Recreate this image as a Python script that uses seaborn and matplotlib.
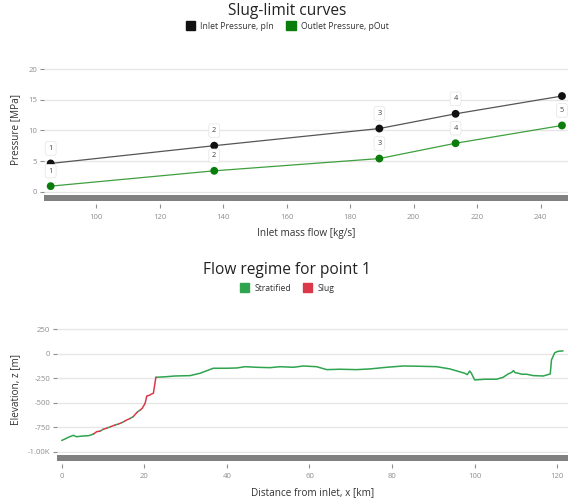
import numpy as np
import pandas as pd
import matplotlib
matplotlib.use("Agg")
import matplotlib.pyplot as plt
import seaborn as sns
from matplotlib.patches import Patch
from matplotlib.ticker import FuncFormatter

# ---------------- data ----------------
point_ids = [1, 2, 3, 4, 5]
mass_flow = [85.7, 137.2, 189.2, 213.2, 246.7]
p_in = [4.6, 7.5, 10.3, 12.7, 15.6]
p_out = [0.9, 3.4, 5.4, 7.9, 10.8]
inlet_point_labels = ["1", "2", "3", "4", ""]
outlet_point_labels = ["1", "2", "3", "4", "5"]
series_names = ["Inlet Pressure, pIn", "Outlet Pressure, pOut"]

x_ticks_top = [100, 120, 140, 160, 180, 200, 220, 240]
y_ticks_top = [0, 5, 10, 15, 20]

dist_km = [0.0, 0.8, 1.6, 2.8, 3.6, 5.0, 6.4, 7.0, 7.7, 8.5, 9.3, 10.0, 11.0,
           11.8, 12.9, 13.7, 14.5, 15.2, 15.7, 16.5, 17.3, 18.0, 18.4, 19.0,
           19.5, 20.2, 20.6, 21.2, 21.8, 22.2, 22.8, 25.0, 27.4, 31.1, 33.5,
           36.7, 40.0, 42.4, 44.4, 47.2, 50.4, 52.9, 56.1, 58.5, 61.7, 64.2,
           67.4, 71.4, 74.6, 78.7, 82.7, 86.0, 90.8, 94.0, 97.6, 98.2, 98.8,
           99.2, 100.0, 102.5, 105.3, 106.9, 108.1, 109.0, 109.4, 109.8,
           110.6, 111.4, 112.6, 114.2, 116.6, 118.3, 118.6, 119.4, 120.2, 121.4]
elev_m = [-885, -870, -853, -833, -847, -840, -837, -830, -819, -795, -790,
          -772, -758, -745, -728, -718, -704, -690, -677, -662, -643, -610,
          -592, -575, -557, -506, -432, -425, -411, -404, -241, -236, -228,
          -224, -200, -149, -149, -146, -133, -139, -143, -133, -139, -126,
          -133, -163, -159, -163, -156, -139, -126, -128, -133, -156, -200,
          -214, -177, -200, -268, -261, -261, -241, -207, -190, -173, -194,
          -200, -210, -210, -224, -228, -207, -64, 10, 24, 28]
regime = (["Stratified"] * 8 +
          ["Slug", "Slug", "Stratified", "Slug", "Stratified", "Slug",
           "Stratified", "Slug", "Stratified", "Slug", "Slug", "Stratified",
           "Slug", "Slug", "Stratified", "Slug", "Slug", "Slug", "Slug",
           "Slug", "Slug", "Slug"] +
          ["Stratified"] * 46)
regime_names = ["Stratified", "Slug"]
y_ticks_bot = [250, 0, -250, -500, -750, -1000]
x_ticks_bot = [0, 20, 40, 60, 80, 100, 120]

# ---------------- style ----------------
sns.set_theme(style="white")
plt.rcParams["font.family"] = ["Open Sans", "DejaVu Sans"]

GRID = "#e6e6e6"
TICK = "#8f8f8f"
LABEL = "#333333"
BAR = "#808080"
IN_LINE, IN_MARK = "#555555", "#111111"
OUT_LINE, OUT_MARK = "#3f9f3f", "#0a7d0a"
STRAT, SLUG = "#2ea44f", "#d9394a"

W, H = 574, 503
fig = plt.figure(figsize=(W / 100, H / 100), dpi=100)


def fy(py):
    return 1 - py / H


def style_axes(ax, yt, xt):
    for s in ax.spines.values():
        s.set_visible(False)
    ax.spines["bottom"].set_position(("outward", 7.5))
    ax.set_yticks(yt)
    ax.set_xticks(xt)
    ax.yaxis.grid(True, color=GRID, linewidth=1.0)
    ax.xaxis.grid(False)
    ax.set_axisbelow(True)
    ax.tick_params(axis="both", colors=TICK, labelsize=5.6, length=3,
                   width=0.8, pad=2)
    ax.tick_params(axis="x", pad=4)
    ax.tick_params(left=True, bottom=True)


# ---------------- top chart ----------------
ax1 = fig.add_axes([44 / W, fy(193.5), (568 - 44) / W, (193.5 - 66) / H])
df_p = pd.DataFrame({
    "flow": mass_flow * 2,
    "p": p_in + p_out,
    "series": [series_names[0]] * 5 + [series_names[1]] * 5,
})
sns.lineplot(data=df_p, x="flow", y="p", hue="series",
             palette={series_names[0]: IN_LINE, series_names[1]: OUT_LINE},
             linewidth=0.9, legend=False, ax=ax1, sort=False)
sns.scatterplot(data=df_p, x="flow", y="p", hue="series",
                palette={series_names[0]: IN_MARK, series_names[1]: OUT_MARK},
                s=32, edgecolor="none", legend=False, ax=ax1, zorder=5)
bbox_kw = dict(boxstyle="round,pad=0.45,rounding_size=0.3", fc="white",
               ec="#e4e4e4", lw=0.5)
for xv, yv, lab in zip(mass_flow, p_in, inlet_point_labels):
    if lab:
        ax1.annotate(lab, (xv, yv), xytext=(0, 10.8), textcoords="offset points",
                     ha="center", va="center", fontsize=5.3, color="#444444",
                     bbox=bbox_kw, zorder=6)
for xv, yv, lab in zip(mass_flow, p_out, outlet_point_labels):
    if lab:
        ax1.annotate(lab, (xv, yv), xytext=(0, 10.8), textcoords="offset points",
                     ha="center", va="center", fontsize=5.3, color="#444444",
                     bbox=bbox_kw, zorder=6)
ax1.set_xlim(83.6, 248.6)
ax1.set_ylim(-0.3, 20.5)
style_axes(ax1, y_ticks_top, x_ticks_top)
ax1.set_xlabel("Inlet mass flow [kg/s]", fontsize=7.2, color=LABEL, labelpad=5)
ax1.set_ylabel("Pressure [MPa]", fontsize=7.2, color=LABEL, labelpad=5)
bar1 = fig.add_axes([44 / W, fy(201), (568 - 44) / W, 6 / H])
bar1.set_facecolor(BAR)
bar1.set_xticks([]); bar1.set_yticks([])
for s in bar1.spines.values():
    s.set_visible(False)

fig.text(0.5, fy(11), "Slug-limit curves", ha="center", va="center",
         fontsize=11.2, color="#222222")
fig.legend(handles=[Patch(color=IN_MARK, label=series_names[0]),
                    Patch(color=OUT_MARK, label=series_names[1])],
           loc="center", bbox_to_anchor=(0.5, fy(26)), ncol=2, frameon=False,
           fontsize=6.2, handlelength=1.1, handleheight=1.1, handletextpad=0.6,
           columnspacing=1.4, labelcolor="#333333")

# ---------------- bottom chart ----------------
ax2 = fig.add_axes([57.3 / W, fy(453.2), (568 - 57.3) / W, (453.2 - 325) / H])
rows = []
seg = 0
n = len(dist_km)
for i in range(n - 1):
    if i > 0 and regime[i] != regime[i - 1]:
        seg += 1
    rows.append((seg, regime[i], dist_km[i], elev_m[i]))
    if i == n - 2 or regime[i + 1] != regime[i]:
        rows.append((seg, regime[i], dist_km[i + 1], elev_m[i + 1]))
prof = pd.DataFrame(rows, columns=["seg", "regime", "x", "z"])
sns.lineplot(data=prof, x="x", y="z", hue="regime", units="seg",
             estimator=None, sort=False, palette={"Stratified": STRAT, "Slug": SLUG},
             linewidth=1.1, legend=False, ax=ax2)
ax2.set_xlim(-1.07, 122.6)
ax2.set_ylim(-1015, 292)
style_axes(ax2, y_ticks_bot, x_ticks_bot)
ax2.yaxis.set_major_formatter(FuncFormatter(
    lambda v, p: "-1.00K" if v <= -1000 else f"{int(v)}"))
ax2.set_xlabel("Distance from inlet, x [km]", fontsize=7.2, color=LABEL, labelpad=5)
ax2.set_ylabel("Elevation, z [m]", fontsize=7.2, color=LABEL, labelpad=5)
bar2 = fig.add_axes([57.3 / W, fy(461), (568 - 57.3) / W, 6 / H])
bar2.set_facecolor(BAR)
bar2.set_xticks([]); bar2.set_yticks([])
for s in bar2.spines.values():
    s.set_visible(False)

fig.text(0.5, fy(270), "Flow regime for point 1", ha="center", va="center",
         fontsize=11.2, color="#222222")
fig.legend(handles=[Patch(color=STRAT, label=regime_names[0]),
                    Patch(color=SLUG, label=regime_names[1])],
           loc="center", bbox_to_anchor=(0.5, fy(288)), ncol=2, frameon=False,
           fontsize=6.2, handlelength=1.1, handleheight=1.1, handletextpad=0.6,
           columnspacing=1.4, labelcolor="#333333")

fig.savefig("out.png", dpi=100, facecolor="white")
